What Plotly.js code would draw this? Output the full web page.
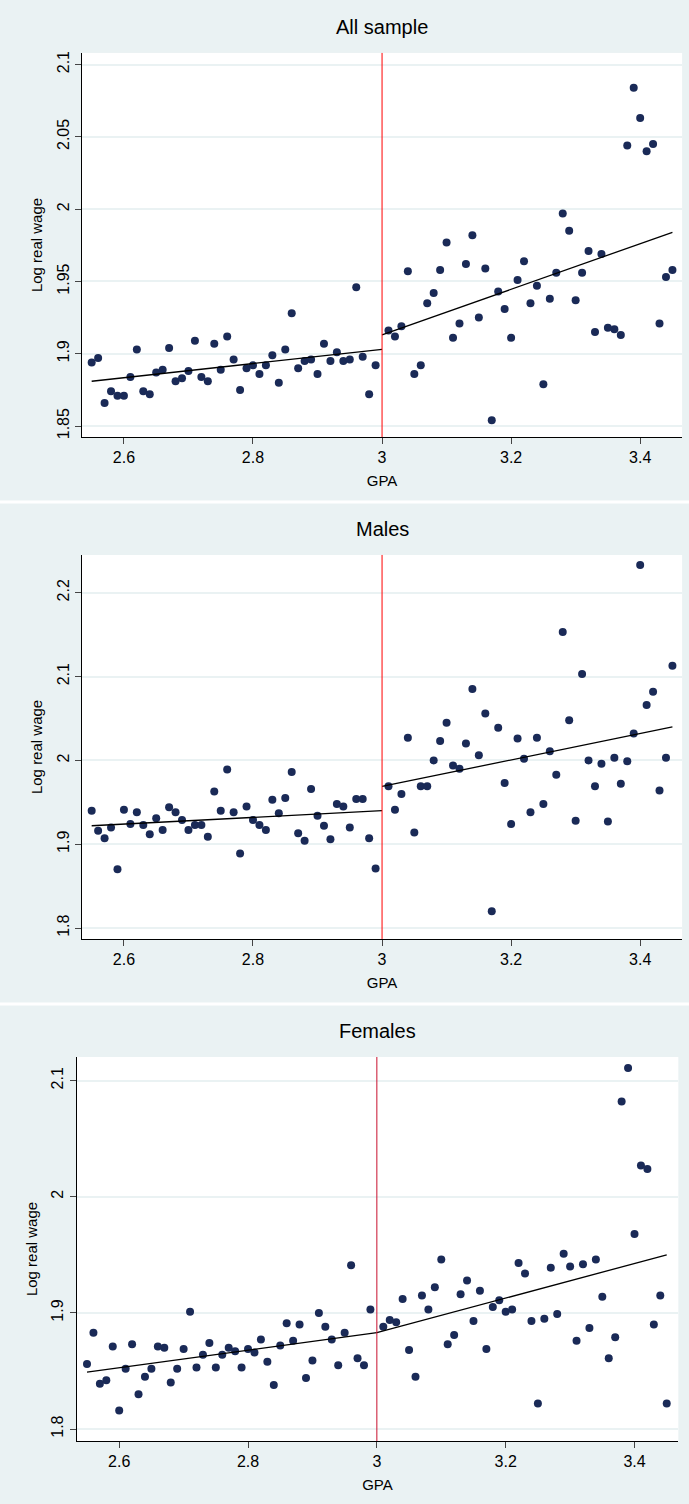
<!DOCTYPE html>
<html>
<head>
<meta charset="utf-8">
<script src="https://cdn.plot.ly/plotly-3.0.1.min.js"></script>
<style>body{margin:0;background:#eaf2f3}</style>
</head>
<body>
<div id="chart" style="width:689px;height:1504px"></div>
<script>
// GPA bins
var gpaLeft = [2.55,2.56,2.57,2.58,2.59,2.60,2.61,2.62,2.63,2.64,2.65,2.66,2.67,2.68,2.69,2.70,2.71,2.72,2.73,2.74,2.75,2.76,2.77,2.78,2.79,2.80,2.81,2.82,2.83,2.84,2.85,2.86,2.87,2.88,2.89,2.90,2.91,2.92,2.93,2.94,2.95,2.96,2.97,2.98,2.99];
var gpaRight = [3.01,3.02,3.03,3.04,3.05,3.06,3.07,3.08,3.09,3.10,3.11,3.12,3.13,3.14,3.15,3.16,3.17,3.18,3.19,3.20,3.21,3.22,3.23,3.24,3.25,3.26,3.27,3.28,3.29,3.30,3.31,3.32,3.33,3.34,3.35,3.36,3.37,3.38,3.39,3.40,3.41,3.42,3.43,3.44,3.45];

var allLeft = [1.894,1.897,1.866,1.874,1.871,1.871,1.884,1.903,1.874,1.872,1.887,1.889,1.904,1.881,1.883,1.888,1.909,1.884,1.881,1.907,1.889,1.912,1.896,1.875,1.890,1.892,1.886,1.892,1.899,1.880,1.903,1.928,1.890,1.895,1.896,1.886,1.907,1.895,1.901,1.895,1.896,1.946,1.898,1.872,1.892];
var allRight = [1.916,1.912,1.919,1.957,1.886,1.892,1.935,1.942,1.958,1.977,1.911,1.921,1.962,1.982,1.925,1.959,1.854,1.943,1.931,1.911,1.951,1.964,1.935,1.947,1.879,1.938,1.956,1.997,1.985,1.937,1.956,1.971,1.915,1.969,1.918,1.917,1.913,2.044,2.084,2.063,2.040,2.045,1.921,1.953,1.958];
var maleLeft = [1.940,1.916,1.907,1.920,1.870,1.941,1.924,1.938,1.923,1.912,1.931,1.917,1.944,1.938,1.929,1.917,1.923,1.923,1.909,1.963,1.940,1.989,1.938,1.889,1.945,1.929,1.923,1.917,1.953,1.937,1.955,1.986,1.913,1.904,1.966,1.934,1.922,1.906,1.948,1.945,1.920,1.954,1.954,1.907,1.871];
var maleRight = [1.969,1.941,1.960,2.027,1.914,1.969,1.969,2.000,2.023,2.045,1.994,1.990,2.020,2.085,2.006,2.056,1.820,2.039,1.973,1.924,2.026,2.002,1.938,2.027,1.948,2.011,1.983,2.153,2.048,1.928,2.103,2.000,1.969,1.996,1.927,2.003,1.972,1.999,2.032,2.233,2.066,2.082,1.964,2.003,2.113];
var femaleLeft = [1.856,1.883,1.839,1.842,1.871,1.816,1.852,1.873,1.830,1.845,1.852,1.871,1.870,1.840,1.852,1.869,1.901,1.853,1.864,1.874,1.853,1.864,1.870,1.867,1.853,1.869,1.866,1.877,1.858,1.838,1.872,1.891,1.876,1.890,1.844,1.859,1.900,1.888,1.877,1.855,1.883,1.941,1.861,1.855,1.903];
var femaleRight = [1.888,1.894,1.892,1.912,1.868,1.845,1.915,1.903,1.922,1.946,1.873,1.881,1.916,1.928,1.893,1.919,1.869,1.905,1.911,1.901,1.903,1.943,1.934,1.893,1.822,1.895,1.939,1.899,1.951,1.940,1.876,1.942,1.887,1.946,1.914,1.861,1.879,2.082,2.111,1.968,2.027,2.024,1.890,1.915,1.822];

// fitted lines (endpoints each side of cutoff)
var fitLeftX = [2.55, 3.0];
var fitRightX = [3.0, 3.45];
var allFitLeft = [1.881, 1.903], allFitRight = [1.913, 1.984];
var maleFitLeft = [1.922, 1.940], maleFitRight = [1.969, 2.040];
var femaleFitLeft = [1.849, 1.883], femaleFitRight = [1.883, 1.950];

var titles = ['All sample', 'Males', 'Females'];
var yTicks = [[1.85,1.9,1.95,2,2.05,2.1],[1.8,1.9,2,2.1,2.2],[1.8,1.9,2,2.1]];
var yRanges = [[1.8424,2.108],[1.787,2.245],[1.7897,2.1204]];
var xRanges = [[2.535,3.465],[2.535,3.465],[2.534,3.468]];
var yDomains = [[0.7094,0.9648],[0.3757,0.6310],[0.0419,0.2972]];
var xDomains = [[0.119,0.990],[0.119,0.990],[0.1113,0.9845]];
var panels = [
  [allLeft, allRight, allFitLeft, allFitRight],
  [maleLeft, maleRight, maleFitLeft, maleFitRight],
  [femaleLeft, femaleRight, femaleFitLeft, femaleFitRight]
];

var dot = '#1a2a57';
var data = [];
var layout = {
  width: 689, height: 1504,
  margin: {l: 0, r: 0, t: 0, b: 0},
  paper_bgcolor: '#eaf2f3',
  plot_bgcolor: '#ffffff',
  showlegend: false,
  font: {family: 'Arial, Liberation Sans, sans-serif', size: 16, color: '#000'},
  annotations: [],
  shapes: [
    {type: 'line', xref: 'paper', yref: 'paper', x0: 0, x1: 1, y0: 1 - 502/1504, y1: 1 - 502/1504, line: {color: '#ffffff', width: 3}},
    {type: 'line', xref: 'paper', yref: 'paper', x0: 0, x1: 1, y0: 1 - 1004/1504, y1: 1 - 1004/1504, line: {color: '#ffffff', width: 3}}
  ]
};

panels.forEach(function (p, i) {
  var xa = 'x' + (i + 1), ya = 'y' + (i + 1);
  var xk = 'xaxis' + (i + 1), yk = 'yaxis' + (i + 1);
  data.push({x: gpaLeft.concat(gpaRight), y: p[0].concat(p[1]), xaxis: xa, yaxis: ya,
    type: 'scatter', mode: 'markers', marker: {color: dot, size: 8}});
  data.push({x: fitLeftX, y: p[2], xaxis: xa, yaxis: ya, type: 'scatter', mode: 'lines',
    line: {color: '#000', width: 1.3}});
  data.push({x: fitRightX, y: p[3], xaxis: xa, yaxis: ya, type: 'scatter', mode: 'lines',
    line: {color: '#000', width: 1.3}});

  layout[xk] = {domain: xDomains[i], range: xRanges[i], anchor: ya,
    tickvals: [2.6, 2.8, 3, 3.2, 3.4], ticktext: ['2.6', '2.8', '3', '3.2', '3.4'],
    ticks: 'outside', ticklen: 6, showgrid: false, zeroline: false,
    showline: true, linecolor: '#000', linewidth: 1,
    title: {text: 'GPA', font: {size: 15}, standoff: 10}};
  layout[yk] = {domain: yDomains[i], range: yRanges[i], anchor: xa,
    tickvals: yTicks[i], tickangle: -90,
    ticks: 'outside', ticklen: 6, showgrid: true, gridcolor: '#eaf2f3', gridwidth: 1.5,
    zeroline: false, showline: true, linecolor: '#000', linewidth: 1,
    title: {text: 'Log real wage', font: {size: 15}, standoff: 8}};

  layout.shapes.push({type: 'line', xref: xa, yref: ya + ' domain', x0: 3, x1: 3, y0: 0, y1: 1,
    line: {color: i === 2 ? '#c8102e' : '#ff0000', width: 1}});
  layout.annotations.push({text: titles[i], xref: 'paper', yref: 'paper', showarrow: false,
    x: (xDomains[i][0] + xDomains[i][1]) / 2, y: yDomains[i][1] + 0.0173, yanchor: 'middle',
    font: {size: 20}});
});

Plotly.newPlot('chart', data, layout, {displayModeBar: false});
</script>
</body>
</html>
